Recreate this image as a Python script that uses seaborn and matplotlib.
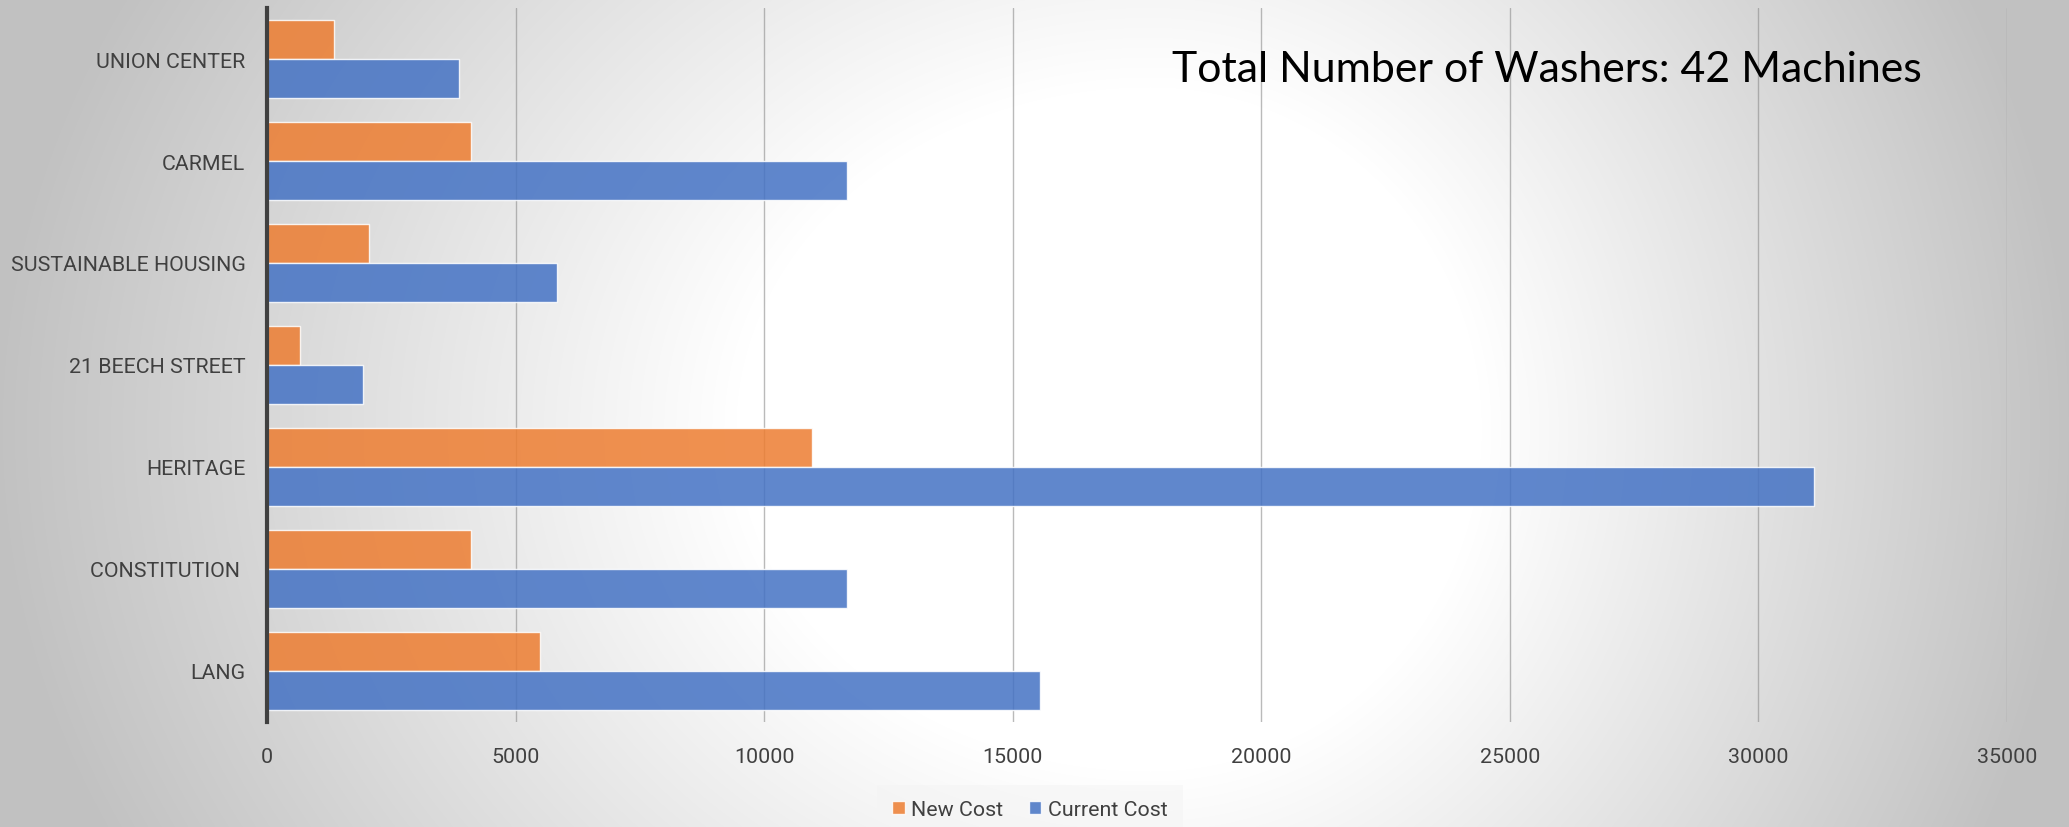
import numpy as np
import pandas as pd
import matplotlib
matplotlib.use("Agg")
import matplotlib.pyplot as plt
import seaborn as sns

# ---------------- data ----------------
sites = ["UNION CENTER", "CARMEL", "SUSTAINABLE HOUSING", "21 BEECH STREET",
         "HERITAGE", "CONSTITUTION ", "LANG"]
new_cost = [1340, 4100, 2050, 670, 10970, 4100, 5490]
current_cost = [3870, 11670, 5830, 1930, 31110, 11670, 15550]
series_names = ["New Cost", "Current Cost"]
x_ticks = [0, 5000, 10000, 15000, 20000, 25000, 30000, 35000]
title_text = "Total Number of Washers: 42 Machines"

df = pd.DataFrame({
    "site": sites * 2,
    "cost": new_cost + current_cost,
    "series": [series_names[0]] * len(sites) + [series_names[1]] * len(sites),
})

sns.set_theme(style="white")
plt.rcParams["font.family"] = ["Roboto", "DejaVu Sans"]

W, H = 2069, 828
fig = plt.figure(figsize=(W / 100, H / 100), dpi=100)

# ---------------- background gradient ----------------
bg = fig.add_axes([0, 0, 1, 1], zorder=-10)
yy, xx = np.mgrid[0:H, 0:W].astype(float)
cx, cy = 1150.0, 430.0
dx = xx - cx
sx = np.where(dx < 0, 1150.0, 920.0)
r = np.sqrt((dx / sx) ** 2 + ((yy - cy) / 950.0) ** 2)
t = np.clip((r - 0.36) / (1.0 - 0.36), 0, 1)
val = 1.0 - t * (1.0 - 0.76)
img = np.dstack([val, val, val])
bg.imshow(img, aspect="auto", extent=[0, 1, 0, 1], origin="upper")
bg.set_axis_off()

# ---------------- main axes ----------------
left, right = 267 / W, 2007 / W
bottom, top = 1 - 723 / H, 1 - 9 / H
ax = fig.add_axes([left, bottom, right - left, top - bottom])
ax.set_facecolor("none")

palette = {"New Cost": "#ED7D31", "Current Cost": "#4472C4"}
sns.barplot(data=df, y="site", x="cost", hue="series", orient="h",
            hue_order=series_names, order=sites, palette=palette,
            saturation=1, width=0.765, alpha=0.85, edgecolor="white",
            linewidth=1.0, ax=ax, errorbar=None)

ax.set_xlim(0, 35000)
ax.set_ylim(len(sites) - 0.5, -0.5)
ax.set_xticks(x_ticks)
ax.set_xticklabels([str(v) for v in x_ticks])
ax.set_xlabel("")
ax.set_ylabel("")
ax.set_axisbelow(True)
ax.grid(axis="x", color="#8c8c8c", alpha=0.6, linewidth=1.0)
ax.grid(axis="y", visible=False)
for s in ["top", "right", "bottom"]:
    ax.spines[s].set_visible(False)
ax.spines["left"].set_color("#404040")
ax.spines["left"].set_linewidth(3)
ax.tick_params(axis="both", length=0, labelsize=15.4, labelcolor="#404040")
ax.tick_params(axis="y", pad=15.5)
ax.tick_params(axis="x", pad=18)

# legend
handles, labels = ax.get_legend_handles_labels()
if ax.legend_ is not None:
    ax.legend_.remove()
leg = fig.legend(handles, labels, loc="upper center",
                 bbox_to_anchor=(1030 / W, 1 - 786 / H),
                 bbox_transform=fig.transFigure, ncol=2, frameon=True,
                 fontsize=15.4, handlelength=0.58, handleheight=0.62,
                 handletextpad=0.3, columnspacing=1.2, borderpad=0.7,
                 borderaxespad=0, fancybox=False)
leg.get_frame().set_facecolor("#f4f4f4")
leg.get_frame().set_edgecolor("none")
leg.get_frame().set_alpha(0.55)
for txt in leg.get_texts():
    txt.set_color("#404040")

# title text
tt = fig.text(1172 / W, 1 - 82 / H, title_text, fontsize=29,
              family=["Lato", "DejaVu Sans"], color="black",
              ha="left", va="baseline")
fig.canvas.draw()
bb = tt.get_window_extent()
tt.set_fontsize(29 * 751.0 / bb.width)

fig.savefig("out.png", dpi=100)
